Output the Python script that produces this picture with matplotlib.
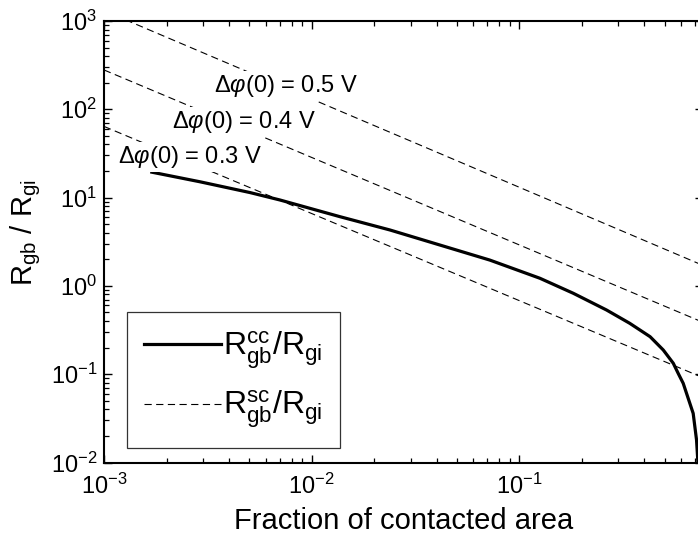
import matplotlib
matplotlib.use("Agg")
import matplotlib.pyplot as plt

# solid curve R_gb^cc / R_gi
frac_cc = [0.00170, 0.00290, 0.00505, 0.00703, 0.01368, 0.0238, 0.0415, 0.0721,
           0.1256, 0.182, 0.263, 0.340, 0.426, 0.493, 0.551, 0.582, 0.615,
           0.650, 0.687, 0.713, 0.724]
ratio_cc = [19.4, 15.1, 11.4, 9.4, 6.08, 4.30, 2.90, 1.96,
            1.22, 0.824, 0.533, 0.377, 0.266, 0.188, 0.133, 0.102, 0.0789,
            0.0533, 0.0360, 0.0180, 0.0100]

# dashed R_gb^sc / R_gi lines (end points), one per interface potential
frac_sc = [1e-3, 0.76]
sc_lines = {
    "0.5": [1310.0, 1.72],
    "0.4": [279.0, 0.39],
    "0.3": [64.0, 0.092],
}
label_pos = {"0.5": (214, 86), "0.4": (172, 122), "0.3": (118, 157)}  # pixels

plt.rcParams["font.family"] = ["Liberation Sans", "DejaVu Sans"]
plt.rcParams["mathtext.fontset"] = "custom"
plt.rcParams["mathtext.rm"] = "Liberation Sans"
plt.rcParams["mathtext.it"] = "Liberation Sans:italic"
plt.rcParams["mathtext.sf"] = "Liberation Sans"
plt.rcParams["axes.unicode_minus"] = False

W, H = 698, 541
fig = plt.figure(figsize=(W / 100, H / 100), dpi=100)
ax_l, ax_r, ax_t, ax_b = 104, 703, 21, 462.5
ax = fig.add_axes([ax_l / W, 1 - ax_b / H, (ax_r - ax_l) / W, (ax_b - ax_t) / H])

for key, ys in sc_lines.items():
    ax.plot(frac_sc, ys, color="black", lw=0.8, ls=(0, (6.5, 4)), zorder=2)
ax.plot(frac_cc, ratio_cc, color="black", lw=2.3, zorder=3)

ax.set_xscale("log")
ax.set_yscale("log")
ax.set_xlim(1e-3, 0.766)
ax.set_ylim(1e-2, 1e3)

for key, (px, py) in label_pos.items():
    ax.text((px - ax_l) / (ax_r - ax_l), (ax_b - py) / (ax_b - ax_t),
            r"$\Delta\varphi$(0) = " + key + " V", transform=ax.transAxes,
            ha="left", va="center", fontsize=17, zorder=4,
            bbox=dict(facecolor="white", edgecolor="none", pad=1.5))

# legend handles
ax.plot([], [], color="black", lw=2.3, label=r"$\mathrm{R_{gb}^{cc}/R_{gi}}$")
ax.plot([], [], color="black", lw=0.8, ls=(0, (6.5, 4)),
        label=r"$\mathrm{R_{gb}^{sc}/R_{gi}}$")
handles, labels = ax.get_legend_handles_labels()
leg = ax.legend(handles[-2:], labels[-2:], loc="lower left",
                bbox_to_anchor=(0.038, 0.033), borderaxespad=0, fontsize=23,
                frameon=True, fancybox=False, edgecolor="#333333", framealpha=1,
                handlelength=2.4, handletextpad=0.05, borderpad=0.55,
                labelspacing=0.55)
leg.get_frame().set_linewidth(0.9)

for s in ax.spines.values():
    s.set_linewidth(1.5)
ax.tick_params(which="both", direction="in", top=True, right=True, labelsize=17)
ax.tick_params(which="major", length=6, width=1)
ax.tick_params(which="minor", length=3.6, width=0.9)
ax.tick_params(axis="x", which="major", pad=8)
ax.tick_params(axis="y", which="major", pad=5)

ax.set_xlabel("Fraction of contacted area", fontsize=21, labelpad=6)
ax.set_ylabel(r"$\mathrm{R_{gb}\ /\ R_{gi}}$", fontsize=21)
ax.yaxis.set_label_coords(-0.102, 0.52)

fig.savefig("out.png", dpi=100)
